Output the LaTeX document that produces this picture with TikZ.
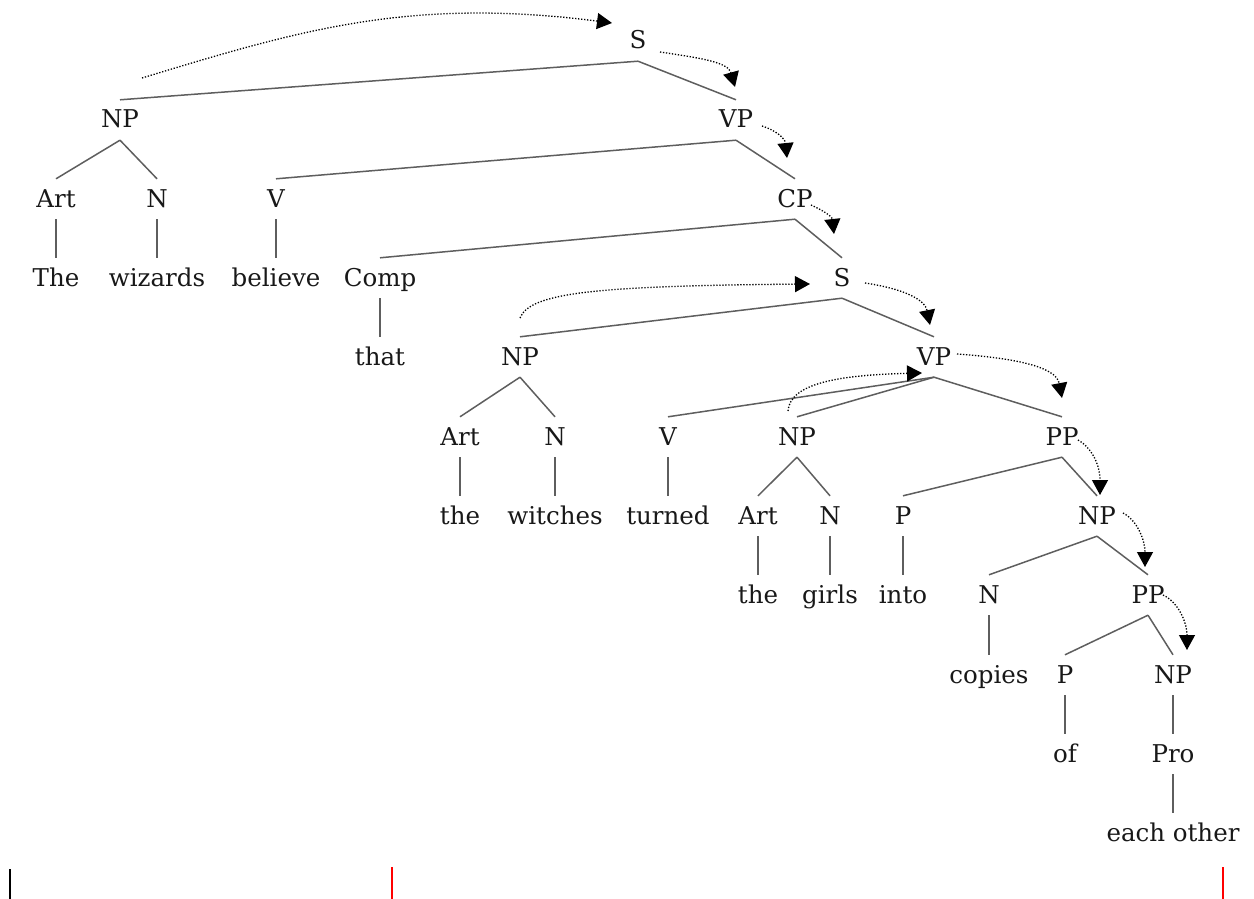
\documentclass[tikz,border=0pt]{standalone}
\usepackage{fontspec}
\setmainfont{DejaVu Serif}
\usetikzlibrary{arrows.meta}
\definecolor{txt}{HTML}{181818}
\definecolor{edgecol}{HTML}{5E5E5E}
\begin{document}
\begin{tikzpicture}[x=1pt,y=-1pt,
  lab/.style={inner sep=0pt, text height=20pt, text depth=4pt, minimum height=40pt,
    font=\fontsize{24.5}{28}\selectfont, text=txt},
  edge/.style={draw=edgecol, line width=1.5pt},
  mv/.style={draw=black, line width=1.3pt, dash pattern=on 1.3pt off 1.7pt,
    -{Triangle[length=15pt,width=16pt]}}]
\useasboundingbox (0,0) rectangle (1254,899);
% nodes
\node[lab] (s1) at (638,41) {S};
\node[lab] (np1) at (120,120) {NP};
\node[lab] (vp1) at (736,120) {VP};
\node[lab] (art1) at (56,199) {Art};
\node[lab] (n1) at (157,199) {N};
\node[lab] (v1) at (276,199) {V};
\node[lab] (cp) at (795,199) {CP};
\node[lab] (the1) at (56,278) {The};
\node[lab] (wiz) at (157,278) {wizards};
\node[lab] (bel) at (276,278) {believe};
\node[lab] (comp) at (380,278) {Comp};
\node[lab] (s2) at (842,278) {S};
\node[lab] (that) at (380,357) {that};
\node[lab] (np2) at (520,357) {NP};
\node[lab] (vp2) at (934,357) {VP};
\node[lab] (art2) at (460,437) {Art};
\node[lab] (n2) at (555,437) {N};
\node[lab] (v2) at (668,437) {V};
\node[lab] (np3) at (797,437) {NP};
\node[lab] (pp1) at (1062,437) {PP};
\node[lab] (the2) at (460,516) {the};
\node[lab] (wit) at (555,516) {witches};
\node[lab] (turn) at (668,516) {turned};
\node[lab] (art3) at (758,516) {Art};
\node[lab] (n3) at (830,516) {N};
\node[lab] (p1) at (903,516) {P};
\node[lab] (np4) at (1097,516) {NP};
\node[lab] (the3) at (758,595) {the};
\node[lab] (girls) at (830,595) {girls};
\node[lab] (into) at (903,595) {into};
\node[lab] (n4) at (989,595) {N};
\node[lab] (pp2) at (1148,595) {PP};
\node[lab] (copies) at (989,675) {copies};
\node[lab] (p2) at (1065,675) {P};
\node[lab] (np5) at (1173,675) {NP};
\node[lab] (of) at (1065,754) {of};
\node[lab] (pro) at (1173,754) {Pro};
\node[lab] (eo) at (1173,833) {each other};
% tree edges
\foreach \a/\b in {s1/np1, s1/vp1, np1/art1, np1/n1, vp1/v1, vp1/cp,
  art1/the1, n1/wiz, v1/bel, cp/comp, cp/s2, comp/that, s2/np2, s2/vp2,
  np2/art2, np2/n2, vp2/v2, vp2/np3, vp2/pp1, art2/the2, n2/wit, v2/turn,
  np3/art3, np3/n3, pp1/p1, pp1/np4, art3/the3, n3/girls, p1/into,
  np4/n4, np4/pp2, n4/copies, pp2/p2, pp2/np5, p2/of, np5/pro, pro/eo}
  \draw[edge] (\a.south) -- (\b.north);
% movement arrows
\coordinate (a1s) at (142,78);  \coordinate (a1t) at (612,23);
\coordinate (a2s) at (660,52);  \coordinate (a2t) at (735,87);
\coordinate (a3s) at (762,126); \coordinate (a3t) at (787,158);
\coordinate (a4s) at (811,205); \coordinate (a4t) at (834,234);
\coordinate (a5s) at (520,318); \coordinate (a5t) at (810,284);
\coordinate (a6s) at (865,283); \coordinate (a6t) at (930,325);
\coordinate (a7s) at (788,411); \coordinate (a7t) at (922,373);
\coordinate (a8s) at (957,354); \coordinate (a8t) at (1062,398);
\coordinate (a9s) at (1078,440); \coordinate (a9t) at (1100,495);
\coordinate (a10s) at (1123,513); \coordinate (a10t) at (1145,567);
\coordinate (a11s) at (1163,595); \coordinate (a11t) at (1187,650);
\draw[mv] (a1s) .. controls (300,30) and (410,-3) .. (a1t);
\draw[mv] (a2s) .. controls (700,58) and (728,62) .. (a2t);
\draw[mv] (a3s) .. controls (775,130) and (785,138) .. (a3t);
\draw[mv] (a4s) .. controls (822,210) and (832,216) .. (a4t);
\draw[mv] (a5s) .. controls (530,292) and (600,286) .. (a5t);
\draw[mv] (a6s) .. controls (905,289) and (925,300) .. (a6t);
\draw[mv] (a7s) .. controls (790,383) and (840,375) .. (a7t);
\draw[mv] (a8s) .. controls (1012,358) and (1056,366) .. (a8t);
\draw[mv] (a9s) .. controls (1092,448) and (1100,465) .. (a9t);
\draw[mv] (a10s) .. controls (1137,520) and (1145,540) .. (a10t);
\draw[mv] (a11s) .. controls (1178,602) and (1187,622) .. (a11t);
% bottom markers
\draw[black, line width=1.6pt] (10,869) -- (10,899);
\draw[red, line width=1.6pt] (392,867) -- (392,899);
\draw[red, line width=1.6pt] (1223,867) -- (1223,899);
\end{tikzpicture}
\end{document}
